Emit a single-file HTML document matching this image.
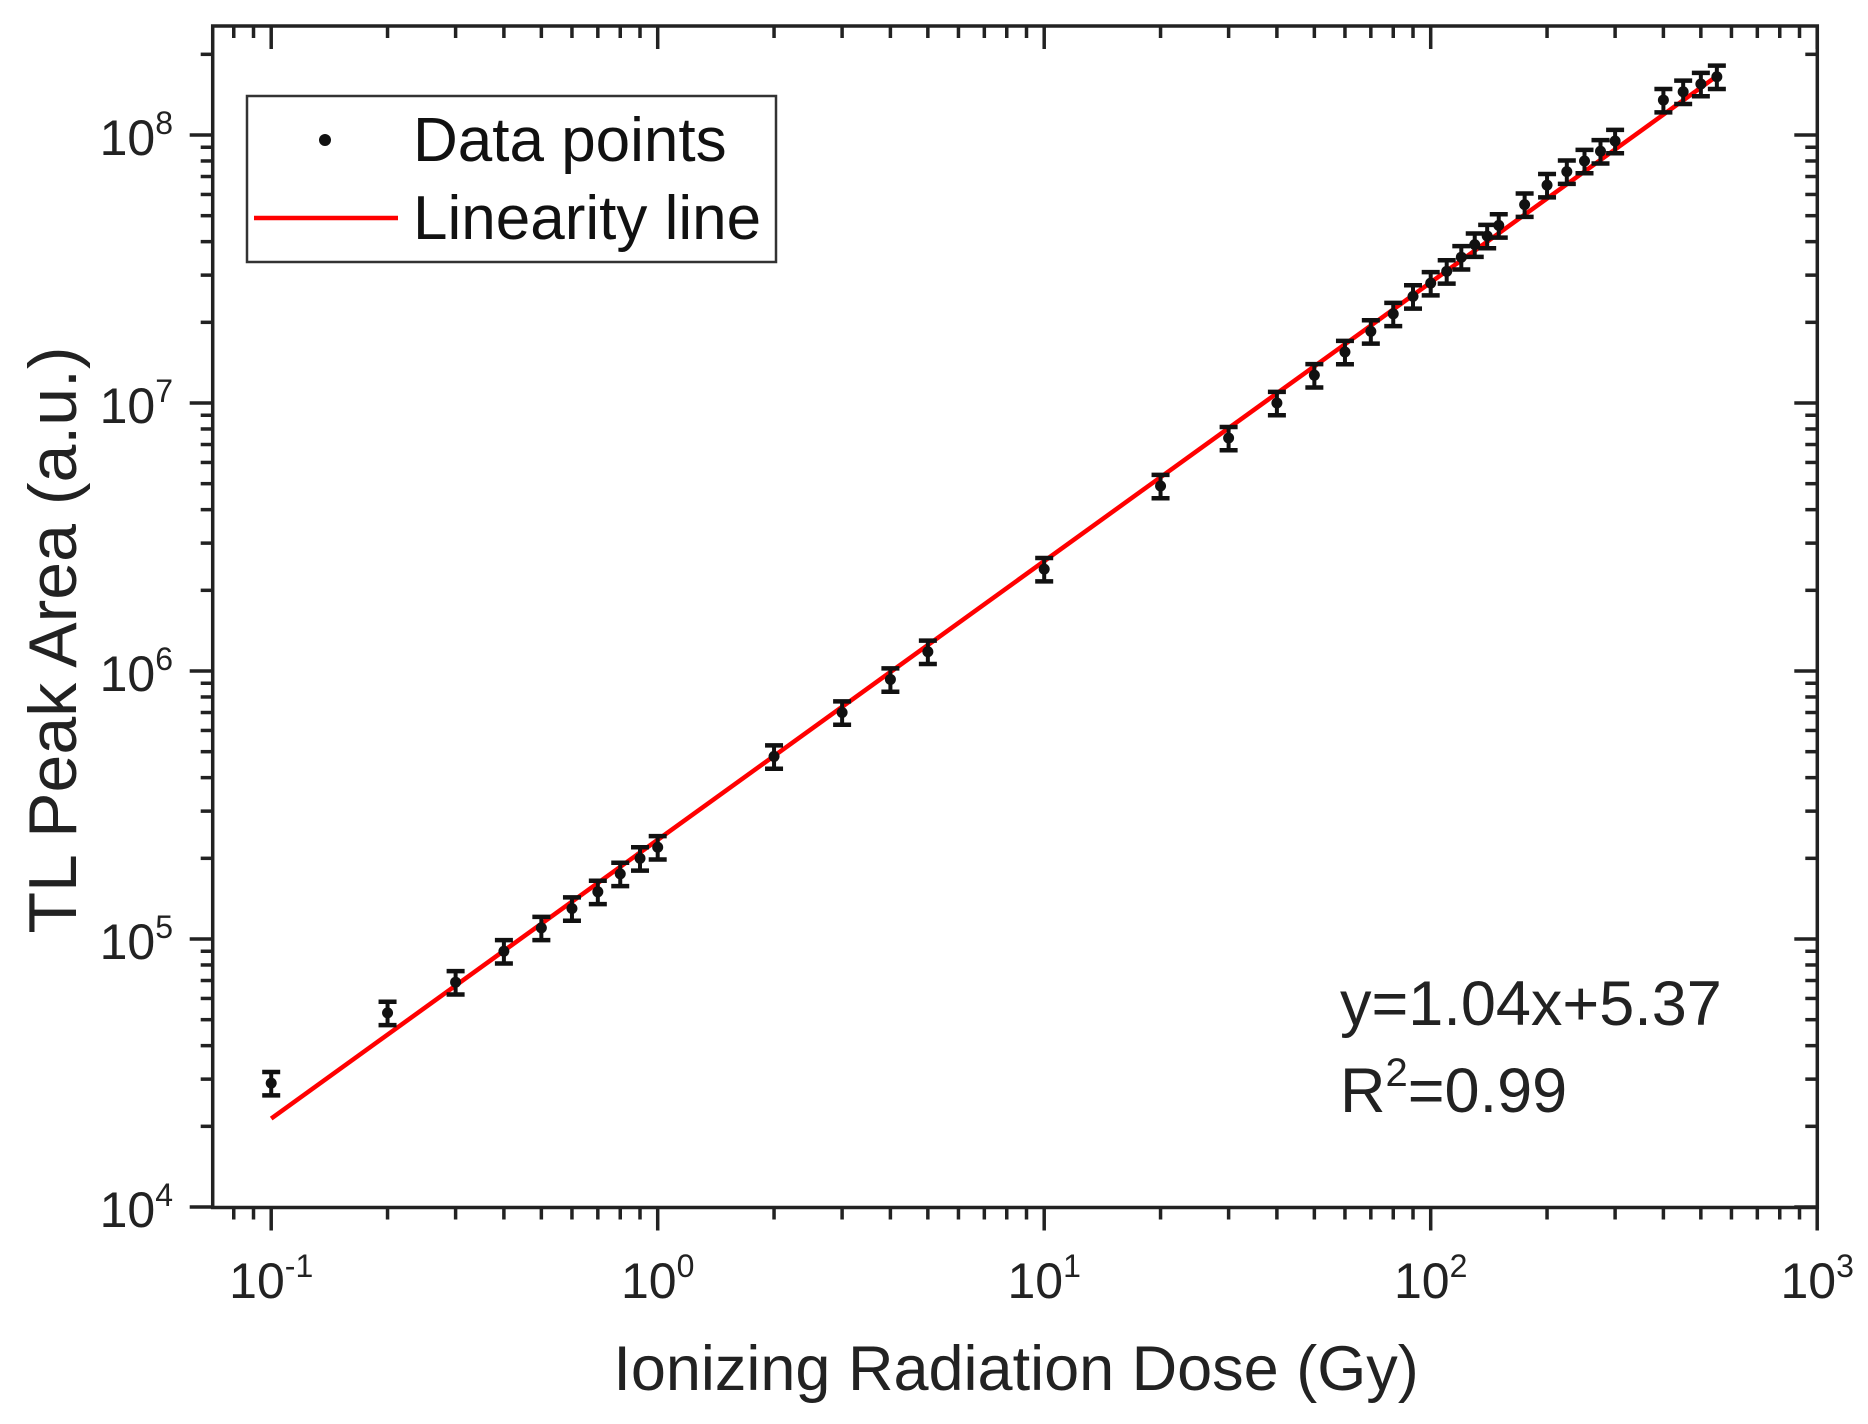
<!DOCTYPE html>
<html><head><meta charset="utf-8"><style>
html,body{margin:0;padding:0;background:#fff;}
svg{display:block;font-family:"Liberation Sans",Arial,sans-serif;}
</style></head><body>
<svg id="chart" width="1868" height="1424" viewBox="0 0 1868 1424">
<rect x="0" y="0" width="1868" height="1424" fill="#fff"/>
<g id="plot"></g>
</svg>
<script>
const doses = [0.1,0.2,0.3,0.4,0.5,0.6,0.7,0.8,0.9,1,2,3,4,5,10,20,30,40,50,60,70,80,90,100,110,120,130,140,150,175,200,225,250,275,300,400,450,500,550];
const areas = [2.9e4,5.3e4,6.9e4,9.0e4,1.1e5,1.3e5,1.5e5,1.75e5,2.0e5,2.2e5,4.8e5,7.0e5,9.3e5,1.18e6,2.4e6,4.9e6,7.4e6,1.0e7,1.27e7,1.55e7,1.85e7,2.15e7,2.5e7,2.8e7,3.1e7,3.5e7,3.9e7,4.2e7,4.6e7,5.5e7,6.5e7,7.3e7,8.0e7,8.7e7,9.5e7,1.35e8,1.45e8,1.55e8,1.65e8];
const errFrac = 0.1;
const fitSlope = 1.04;
const fitIntercept = 5.37;
const fitRange = [0.1, 550];
const xTickExps = [-1,0,1,2,3];
const yTickExps = [4,5,6,7,8];

const NS="http://www.w3.org/2000/svg";
const L=212.7,R=1817.3,T=26,B=1207.5;
const xDec=386.5, x0=271.2;
const yDec=268, y8=135;
function sx(v){return x0+(Math.log10(v)+1)*xDec;}
function sy(v){return y8-(Math.log10(v)-8)*yDec;}
const g=document.getElementById('plot');
function el(tag,attrs,parent){const e=document.createElementNS(NS,tag);for(const k in attrs)e.setAttribute(k,attrs[k]);(parent||g).appendChild(e);return e;}

const fl=el('line',{x1:sx(fitRange[0]),y1:sy(Math.pow(10,fitSlope*Math.log10(fitRange[0])+fitIntercept)),x2:sx(fitRange[1]),y2:sy(Math.pow(10,fitSlope*Math.log10(fitRange[1])+fitIntercept)),stroke:'#ff0000','stroke-width':4.5});



for(let i=0;i<doses.length;i++){
  const gp=el('g',{});
  
  
  const x=sx(doses[i]),y=sy(areas[i]);
  const yt=sy(areas[i]*(1+errFrac)),yb=sy(areas[i]*(1-errFrac));
  el('line',{x1:x,y1:yt,x2:x,y2:yb,stroke:'#111','stroke-width':4},gp);
  el('line',{x1:x-9,y1:yt,x2:x+9,y2:yt,stroke:'#111','stroke-width':4.5},gp);
  el('line',{x1:x-9,y1:yb,x2:x+9,y2:yb,stroke:'#111','stroke-width':4.5},gp);
  el('circle',{cx:x,cy:y,r:5.5,fill:'#111'},gp);
}

const fr=el('rect',{x:L,y:T,width:R-L,height:B-T,fill:'none',stroke:'#222','stroke-width':3.5});



for(let e=-1;e<=3;e++){
  for(let m=1;m<10;m++){
    if(e===3&&m>1)break;
    const v=m*Math.pow(10,e),x=sx(v);
    const len=m===1?23:12;
    el('line',{x1:x,y1:B,x2:x,y2:B+len,stroke:'#222','stroke-width':3.5});
    el('line',{x1:x,y1:T,x2:x,y2:T+len,stroke:'#222','stroke-width':3.5});
  }
}
[0.09,0.08].forEach(v=>{const x=sx(v);if(x>L){el('line',{x1:x,y1:B,x2:x,y2:B+12,stroke:'#222','stroke-width':3.5});el('line',{x1:x,y1:T,x2:x,y2:T+12,stroke:'#222','stroke-width':3.5});}});
xTickExps.forEach(e=>{
  const t=el('text',{x:sx(Math.pow(10,e)),y:1298,'font-size':50,'text-anchor':'middle',fill:'#222'});
  
  
  t.innerHTML='10<tspan dy="-21" font-size="32">'+e+'</tspan>';
});
for(let e=4;e<=8;e++){
  for(let m=1;m<10;m++){
    const v=m*Math.pow(10,e),y=sy(v);
    if(y<T)break;
    const len=m===1?23:12;
    el('line',{x1:L,y1:y,x2:L-len,y2:y,stroke:'#222','stroke-width':3.5});
    el('line',{x1:R,y1:y,x2:R-len,y2:y,stroke:'#222','stroke-width':3.5});
  }
}
yTickExps.forEach(e=>{
  const t=el('text',{x:173,y:sy(Math.pow(10,e))+20,'font-size':50,'text-anchor':'end',fill:'#222'});
  
  
  t.innerHTML='10<tspan dy="-21" font-size="32">'+e+'</tspan>';
});

let t=el('text',{x:1016,y:1390,'font-size':63,'text-anchor':'middle',fill:'#222'});


t.textContent='Ionizing Radiation Dose (Gy)';
t=el('text',{x:0,y:0,'font-size':68,'text-anchor':'middle',fill:'#222',transform:'translate(76,640) rotate(-90)'});


t.textContent='TL Peak Area (a.u.)';

const lg=el('g',{});


el('rect',{x:247,y:96,width:529,height:166,fill:'#fff',stroke:'#333','stroke-width':2.5},lg);
el('circle',{cx:325,cy:140,r:6,fill:'#111'},lg);
el('line',{x1:254,y1:218,x2:398,y2:218,stroke:'#ff0000','stroke-width':4.5},lg);
t=el('text',{x:413,y:161,'font-size':62,fill:'#111'},lg);


t.textContent='Data points';
t=el('text',{x:413,y:239,'font-size':62,fill:'#111'},lg);


t.textContent='Linearity line';

t=el('text',{x:1340,y:1025,'font-size':63,fill:'#222'});


t.textContent='y=1.04x+5.37';
t=el('text',{x:1340,y:1112,'font-size':63,fill:'#222'});


t.innerHTML='R<tspan dy="-26" font-size="40">2</tspan><tspan dy="26">=0.99</tspan>';
</script>
</body></html>
